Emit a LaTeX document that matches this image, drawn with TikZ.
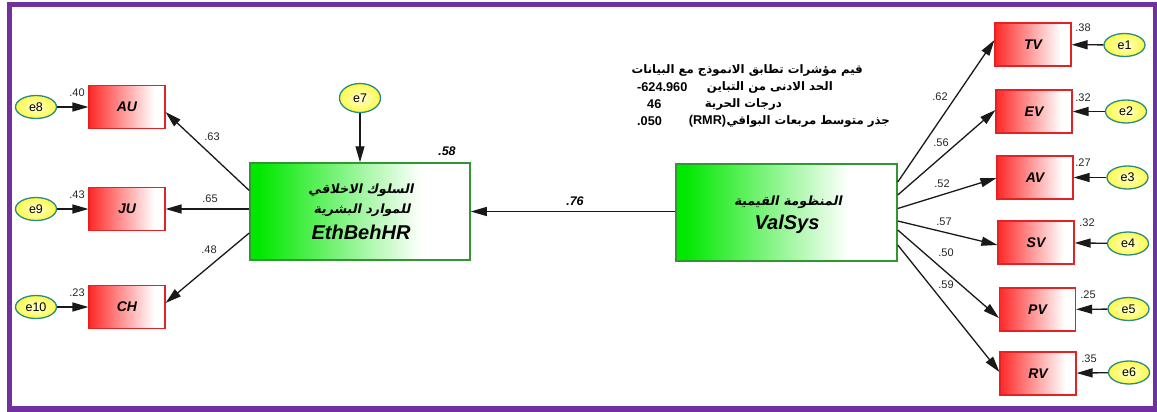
\documentclass[tikz,border=0pt]{standalone}
\usepackage{fontspec}
\setmainfont{Liberation Sans}
\newfontfamily\arbf[Script=Arabic]{DejaVu Sans Bold}
\newfontfamily\arbfsl[Script=Arabic,FakeSlant=0.2]{DejaVu Sans Bold}
\TeXXeTstate=1
\usetikzlibrary{arrows.meta,shapes.geometric,calc}
\definecolor{R1}{RGB}{255,40,40}
\definecolor{RB}{RGB}{225,35,35}
\definecolor{G1}{RGB}{0,232,0}
\definecolor{GB}{RGB}{50,150,50}
\definecolor{Y}{RGB}{255,250,70}
\definecolor{YL}{RGB}{255,255,215}
\definecolor{TB}{RGB}{40,140,140}
\definecolor{PU}{RGB}{112,48,160}
\pgfdeclarehorizontalshading{redfade}{100bp}{color(0bp)=(R1); color(25bp)=(R1); color(68bp)=(white); color(100bp)=(white)}
\pgfdeclarehorizontalshading{greenfade}{100bp}{color(0bp)=(G1); color(27bp)=(G1); color(64bp)=(white); color(100bp)=(white)}
\begin{document}
\begin{tikzpicture}[x=1pt,y=-1pt,
  obs/.style={rectangle, draw=RB, line width=1.1pt, minimum width=76pt, minimum height=43pt, inner sep=0pt, shade, shading=redfade, font=\fontsize{14}{16}\selectfont\bfseries\itshape},
  lat/.style={rectangle, draw=GB, line width=1.5pt, minimum width=220pt, minimum height=97pt, inner sep=0pt, shade, shading=greenfade},
  err/.style={ellipse, draw=TB, line width=1.3pt, minimum width=41pt, minimum height=23pt, inner sep=0pt, inner color=YL, outer color=Y, font=\fontsize{12.5}{14}\selectfont},
  coef/.style={font=\fontsize{11}{12}\selectfont, text=black!85, inner sep=0pt},
  bcoef/.style={font=\fontsize{12.5}{14}\selectfont\bfseries\itshape, inner sep=0pt},
  pth/.style={draw=black!90, line width=1.3pt, -{Triangle[length=16pt,width=9pt]}},
  ltxt/.style={font=\fontsize{20}{21}\selectfont\bfseries\itshape, inner sep=0pt},
  atxt/.style={font=\arbfsl\fontsize{12.7}{14}\selectfont, inner sep=0pt},
  ttl/.style={font=\arbf\fontsize{11.7}{13}\selectfont, inner sep=0pt},
  tnum/.style={font=\fontsize{12.7}{14}\selectfont\bfseries, inner sep=0pt},
]
\useasboundingbox (0,0) rectangle (1157,412);
\fill[white] (0,0) rectangle (1157,412);
\draw[PU, line width=5.5pt] (9.5,4.5) rectangle (1155.5,409);

% left observed
\node[obs] (AU) at (127,107) {AU};
\node[obs] (JU) at (127,209) {JU};
\node[obs] (CH) at (127,307) {CH};
\node[err] (e8) at (36,107) {e8};
\node[err] (e9) at (36,209) {e9};
\node[err] (e10) at (36,307) {e10};
\draw[pth] (e8) -- (AU);
\draw[pth] (e9) -- (JU);
\draw[pth] (e10) -- (CH);
\node[coef] at (77,93) {.40};
\node[coef] at (77,195) {.43};
\node[coef] at (77,293) {.23};

% EthBehHR
\node[lat] (eth) at (360,211.5) {};
\node[atxt] (ethA) at ($(eth.center)+(1,-21)$) {\beginR السلوك الاخلاقي\endR};
\node[atxt] (ethB) at ($(eth.center)+(2,-1.5)$) {\beginR للموارد البشرية\endR};
\node[ltxt] (ethC) at ($(eth.center)+(1,21)$) {EthBehHR};
\node[err, minimum height=29pt] (e7) at (360,98) {e7};
\draw[pth] (e7) -- (eth);
\node[bcoef] at (447,151) {.58};
\draw[pth] ($(eth.west)+(0,-21)$) -- ($(AU.east)+(0,5)$);
\draw[pth] (eth.west |- JU.east) -- (JU.east);
\draw[pth] ($(eth.west)+(0,21.5)$) -- ($(CH.east)+(0,-4)$);
\node[coef] at (212,137) {.63};
\node[coef] at (210,199) {.65};
\node[coef] at (209,250) {.48};

% ValSys
\node[lat, minimum width=221pt] (val) at (786.5,212.5) {};
\node[atxt] (valA) at ($(val.center)+(1.5,-10.5)$) {\beginR المنظومة القيمية\endR};
\node[ltxt] (valB) at ($(val.center)+(0.5,12)$) {ValSys};
\draw[pth] (val.west |- eth.east) -- (eth.east);
\node[bcoef] at (575,201) {.76};

% right observed
\node[obs] (TV) at (1033,44.5) {TV};
\node[obs] (EV) at (1034,111.5) {EV};
\node[obs] (AV) at (1035,177.5) {AV};
\node[obs] (SV) at (1036,242.5) {SV};
\node[obs] (PV) at (1037.5,309.5) {PV};
\node[obs] (RV) at (1038,373.5) {RV};
\node[err] (e1) at (1124.5,45) {e1};
\node[err] (e2) at (1126,111.5) {e2};
\node[err] (e3) at (1127.5,177.5) {e3};
\node[err] (e4) at (1128,243.5) {e4};
\node[err] (e5) at (1128.5,309) {e5};
\node[err] (e6) at (1129,372.5) {e6};
\foreach \e/\o in {e1/TV,e2/EV,e3/AV,e4/SV,e5/PV,e6/RV}
  \draw[pth] (\e) -- (\o);
\node[coef] at (1083,28) {.38};
\node[coef] at (1083,98) {.32};
\node[coef] at (1083,163) {.27};
\node[coef] at (1087,223) {.32};
\node[coef] at (1088,295) {.25};
\node[coef] at (1089,359) {.35};

\draw[pth] ($(val.east)+(0,-30.5)$) -- ($(TV.west)+(0,-4.5)$);
\draw[pth] ($(val.east)+(0,-17.5)$) -- ($(EV.west)+(0,-1.5)$);
\draw[pth] ($(val.east)+(0,-4)$) -- ($(AV.west)+(0,0.5)$);
\draw[pth] ($(val.east)+(0,8.5)$) -- ($(SV.west)+(0,2.5)$);
\draw[pth] ($(val.east)+(0,17.5)$) -- ($(PV.west)+(0,8.5)$);
\draw[pth] ($(val.east)+(0,32.5)$) -- ($(RV.west)+(0,-1.5)$);
\node[coef] at (940,97) {.62};
\node[coef] at (941,143) {.56};
\node[coef] at (942,184) {.52};
\node[coef] at (944,222) {.57};
\node[coef] at (946,253) {.50};
\node[coef] at (946,285) {.59};

% fit indices
\node[ttl, anchor=east] (t1) at (863,70) {\beginR قيم مؤشرات تطابق الانموذج مع البيانات\endR};
\node[ttl, anchor=east] (t2) at (833,87) {\beginR الحد الادنى من التباين\endR};
\node[tnum, anchor=west] (n2) at (637,87) {-624.960};
\node[ttl, anchor=east] (t3) at (782,104) {\beginR درجات الحرية\endR};
\node[tnum, anchor=west] (n3) at (647,104) {46};
\node[ttl, anchor=east] (t4) at (890,121) {\beginR جذر متوسط مربعات البواقي\endR};
\node[tnum, anchor=east] (r4) at (t4.west) {(RMR)};
\node[tnum, anchor=west] (n4) at (637,121) {.050};
\end{tikzpicture}
\end{document}
